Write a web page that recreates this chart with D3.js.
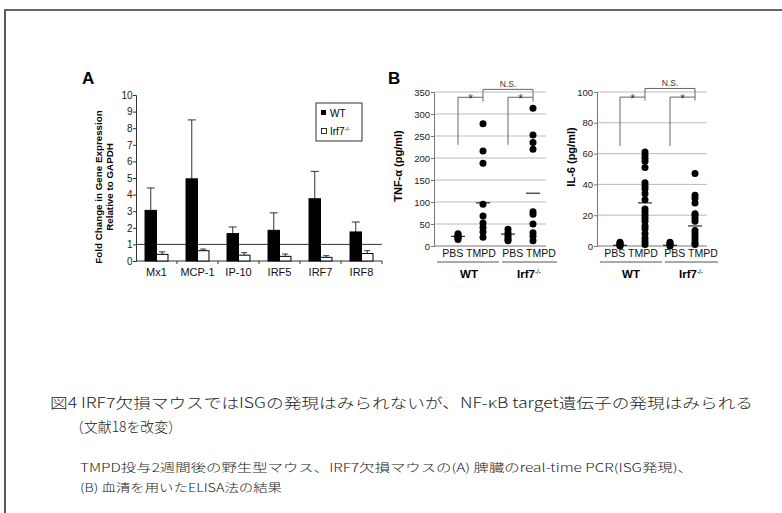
<!DOCTYPE html>
<html><head><meta charset="utf-8">
<script src="https://cdn.jsdelivr.net/npm/d3@7"></script>
<style>body{margin:0;background:#fff}svg{display:block}text{font-family:"Liberation Sans",Arial,sans-serif}</style>
</head><body><svg id="c" width="782" height="513"></svg>
<script>
// ---- Panel A data ----
const genes = ["Mx1","MCP-1","IP-10","IRF5","IRF7","IRF8"];
const seriesA = ["WT","Irf7"];
const wtMean = [3.05,4.95,1.65,1.85,3.75,1.75];
const wtErr  = [4.4,8.5,2.05,2.9,5.4,2.35];
const koMean = [0.4,0.62,0.35,0.28,0.22,0.45];
const koErr  = [0.55,0.72,0.5,0.42,0.32,0.62];
const yTicksA = [0,1,2,3,4,5,6,7,8,9,10];
// ---- Panel B data ----
const groupsB = ["WT-PBS","WT-TMPD","Irf7-PBS","Irf7-TMPD"];
const tnfWtPbs  = [15,18,20,22,25,28];
const tnfWtTmpd = [278,216,188,95,68,52,42,32,20];
const tnfKoPbs  = [38,30,25,20,15,12];
const tnfKoTmpd = [313,252,235,220,78,72,50,30,22,12];
const tnfMedian = [22,98,27,120];
const tnfTicks  = [0,50,100,150,200,250,300,350];
const il6WtPbs  = [0,0.5,1,2,2.5];
const il6WtTmpd = [61,59,57,55,51,41,39,37,34,30,24,22,20,18,16,13,11,8,5,3,1];
const il6KoPbs  = [0,1,2,2.5];
const il6KoTmpd = [47,33,31,28,21,20,18,16,10,8,6,4,2,1];
const il6Median = [0.5,28,0.5,13];
const il6Ticks  = [0,20,40,60,80,100];

const svg = d3.select("#c");
// frame
svg.append("path").attr("d","M5,513V10H782").attr("fill","none").attr("stroke","#333").attr("stroke-width",1.6);

// ================= Panel A =================
const xA = d3.scaleBand().domain(genes).range([136,382]);
const xA1 = d3.scaleBand().domain(seriesA).range([xA.bandwidth()*0.22, xA.bandwidth()*0.78]);
const yA = d3.scaleLinear().domain([0,10]).range([261,95]);
const gA = svg.append("g");
const ax = gA.append("g").attr("transform","translate(136,0)")
  .call(d3.axisLeft(yA).tickValues(yTicksA).tickSize(3).tickFormat(d3.format("d")));
ax.select(".domain").attr("stroke","#333");
ax.selectAll(".tick line").attr("stroke","#333");
ax.selectAll("text").attr("font-size",10).attr("fill","#222").attr("x",-3.5);
// x axis
gA.append("line").attr("x1",136).attr("x2",382).attr("y1",yA(0)).attr("y2",yA(0)).attr("stroke","#333");
gA.selectAll(".xt").data(genes).enter().append("line")
  .attr("x1",d=>xA(d)+xA.bandwidth()).attr("x2",d=>xA(d)+xA.bandwidth())
  .attr("y1",yA(0)).attr("y2",yA(0)+3).attr("stroke","#333");
gA.selectAll(".xl").data(genes).enter().append("text")
  .attr("x",d=>xA(d)+xA.bandwidth()/2).attr("y",276).attr("text-anchor","middle")
  .attr("font-size",11).attr("fill","#111").text(d=>d);
// reference line at 1
gA.append("line").attr("x1",136).attr("x2",382).attr("y1",yA(1)).attr("y2",yA(1)).attr("stroke","#333");
// bars
const barData = [];
genes.forEach((g,i)=>{
  barData.push({g,s:"WT",v:wtMean[i],e:wtErr[i]});
  barData.push({g,s:"Irf7",v:koMean[i],e:koErr[i]});
});
const bg = gA.selectAll(".bar").data(barData).enter().append("g");
bg.append("line").attr("x1",d=>xA(d.g)+xA1(d.s)+xA1.bandwidth()/2).attr("x2",d=>xA(d.g)+xA1(d.s)+xA1.bandwidth()/2)
  .attr("y1",d=>yA(d.v)).attr("y2",d=>yA(d.e)).attr("stroke","#333");
bg.append("line").attr("x1",d=>xA(d.g)+xA1(d.s)+xA1.bandwidth()/2-(d.s==="WT"?4:3))
  .attr("x2",d=>xA(d.g)+xA1(d.s)+xA1.bandwidth()/2+(d.s==="WT"?4:3))
  .attr("y1",d=>yA(d.e)).attr("y2",d=>yA(d.e)).attr("stroke","#333");
bg.append("rect").attr("x",d=>xA(d.g)+xA1(d.s)).attr("width",xA1.bandwidth())
  .attr("y",d=>yA(d.v)).attr("height",d=>yA(0)-yA(d.v))
  .attr("fill",d=>d.s==="WT"?"#000":"#fff").attr("stroke","#000").attr("stroke-width",1);
// legend
gA.append("rect").attr("x",316).attr("y",103).attr("width",46).attr("height",38).attr("fill","#fff").attr("stroke","#333");
gA.append("rect").attr("x",321).attr("y",110).attr("width",5).attr("height",5).attr("fill","#000");
gA.append("text").attr("x",330).attr("y",116.5).attr("font-size",10).text("WT");
gA.append("rect").attr("x",321.5).attr("y",128.5).attr("width",5).attr("height",5).attr("fill","#fff").attr("stroke","#000").attr("stroke-width",0.8);
const lt = gA.append("text").attr("x",330).attr("y",134.5).attr("font-size",10).text("Irf7");
lt.append("tspan").attr("font-size",6).attr("dy",-4).text("-/-");
// y title
gA.append("text").attr("transform","translate(102,187) rotate(-90)").attr("text-anchor","middle")
  .attr("font-size",9.8).attr("font-weight","bold").text("Fold Change in Gene Expression");
gA.append("text").attr("transform","translate(113,187) rotate(-90)").attr("text-anchor","middle")
  .attr("font-size",9.8).attr("font-weight","bold").text("Relative to GAPDH");
gA.append("text").attr("x",82).attr("y",84).attr("font-size",17).attr("font-weight","bold").text("A");
svg.append("text").attr("x",388).attr("y",84).attr("font-size",17).attr("font-weight","bold").text("B");

// ================= Panel B =================
function dotPanel(opt){
  const g = svg.append("g");
  const y = d3.scaleLinear().domain([0,opt.max]).range([246,92]);
  const x = d3.scalePoint().domain(groupsB).range(opt.xr);
  // grid
  g.selectAll(".gr").data(opt.ticks.filter(t=>t>0)).enter().append("line")
    .attr("x1",opt.x0).attr("x2",opt.x1).attr("y1",d=>y(d)).attr("y2",d=>y(d)).attr("stroke","#bbb");
  g.append("line").attr("x1",opt.x0).attr("x2",opt.x1).attr("y1",y(0)).attr("y2",y(0)).attr("stroke","#777");
  const a = g.append("g").attr("transform",`translate(${opt.x0},0)`)
    .call(d3.axisLeft(y).tickValues(opt.ticks).tickSize(3).tickFormat(d3.format("d")));
  a.select(".domain").attr("stroke","#777");
  a.selectAll(".tick line").attr("stroke","#777");
  a.selectAll("text").attr("font-size",9.5).attr("fill","#222").attr("x",-4);
  // brackets
  const br = (xa,xb,ylow,ytop,yend)=>`M${x(xa)},${y(ylow)}V${y(ytop)}H${x(xb)}V${y(yend)}`;
  [[ "WT-PBS","WT-TMPD"],["Irf7-PBS","Irf7-TMPD"]].forEach(p=>{
    g.append("path").attr("d",br(p[0],p[1],opt.bLow,opt.bTop,opt.bEnd)).attr("fill","none").attr("stroke","#666");
    g.append("text").attr("x",(x(p[0])+x(p[1]))/2).attr("y",y(opt.bTop)+6).attr("text-anchor","middle")
      .attr("font-size",12).attr("fill","#333").text("*");
  });
  g.append("path").attr("d",`M${x("WT-TMPD")},${y(opt.bTop)}V${y(opt.nsTop)}H${x("Irf7-TMPD")}V${y(opt.nsEnd)}`)
    .attr("fill","none").attr("stroke","#666");
  g.append("text").attr("x",(x("WT-TMPD")+x("Irf7-TMPD"))/2).attr("y",y(opt.nsTop)-2.5).attr("text-anchor","middle")
    .attr("font-size",8.5).attr("fill","#333").text("N.S.");
  // dots
  opt.data.forEach((arr,i)=>{
    g.selectAll(null).data(arr).enter().append("circle")
      .attr("cx",x(groupsB[i])).attr("cy",d=>y(d)).attr("r",3.5).attr("fill","#000");
  });
  // medians
  g.selectAll(".md").data(opt.med).enter().append("line")
    .attr("x1",(d,i)=>x(groupsB[i])-7).attr("x2",(d,i)=>x(groupsB[i])+7)
    .attr("y1",d=>y(d)).attr("y2",d=>y(d)).attr("stroke","#000").attr("stroke-width",1);
  // group labels
  [["WT",0],["Irf7",2]].forEach(([name,i])=>{
    const c = opt.gc[i/2];
    g.append("text").attr("x",c).attr("y",256.5).attr("text-anchor","middle").attr("font-size",10.5).attr("fill","#111")
      .text(opt.pbsLabel);
    g.append("line").attr("x1",opt.ul[i/2][0]).attr("x2",opt.ul[i/2][1]).attr("y1",262).attr("y2",262).attr("stroke","#555");
    const t = g.append("text").attr("x",c).attr("y",278).attr("text-anchor","middle").attr("font-size",11.5)
      .attr("font-weight","bold").text(name==="WT"?"WT":"Irf7");
    if(name!=="WT") t.append("tspan").attr("font-size",6.5).attr("font-weight","normal").attr("dy",-4.5).text("-/-");
  });
  g.append("text").attr("transform",`translate(${opt.tx},${opt.ty}) rotate(-90)`).attr("text-anchor","middle")
    .attr("font-size",11).attr("font-weight","bold").text(opt.title);
}
dotPanel({max:350,ticks:tnfTicks,xr:[458,533],x0:434,x1:546,
  data:[tnfWtPbs,tnfWtTmpd,tnfKoPbs,tnfKoTmpd],med:tnfMedian,
  bLow:230,bTop:338,bEnd:328,nsTop:356,nsEnd:338,
  gc:[469,529],ul:[[437,499],[502,557]],pbsLabel:"PBS TMPD",
  title:"TNF-α (pg/ml)",tx:402,ty:166});
dotPanel({max:100,ticks:il6Ticks,xr:[620,695],x0:597,x1:707,
  data:[il6WtPbs,il6WtTmpd,il6KoPbs,il6KoTmpd],med:il6Median,
  bLow:65,bTop:96.7,bEnd:94.5,nsTop:102.3,nsEnd:96.7,
  gc:[631,691],ul:[[600,662],[665,718]],pbsLabel:"PBS TMPD",
  title:"IL-6 (pg/ml)",tx:575,ty:157});

// ================= Captions =================
const jp = '"Noto Sans CJK JP",sans-serif';
const cap = [
  {t:"図4  IRF7欠損マウスではISGの発現はみられないが、NF-κB  target遺伝子の発現はみられる",x:50,y:408,fs:14,w:703},
  {t:"（文献18を改変）",x:70,y:432,fs:14,w:112},
  {t:"TMPD投与2週間後の野生型マウス、IRF7欠損マウスの(A) 脾臓のreal-time PCR(ISG発現)、",x:80,y:472,fs:11.5,w:613},
  {t:"(B) 血清を用いたELISA法の結果",x:80,y:492,fs:11.5,w:202}
];
svg.selectAll(".cap").data(cap).enter().append("text")
  .attr("x",d=>d.x).attr("y",d=>d.y).attr("font-size",d=>d.fs).attr("fill","#222").attr("font-weight",300)
  .style("font-family",jp).attr("textLength",d=>d.w).attr("lengthAdjust","spacingAndGlyphs").text(d=>d.t);
</script></body></html>
